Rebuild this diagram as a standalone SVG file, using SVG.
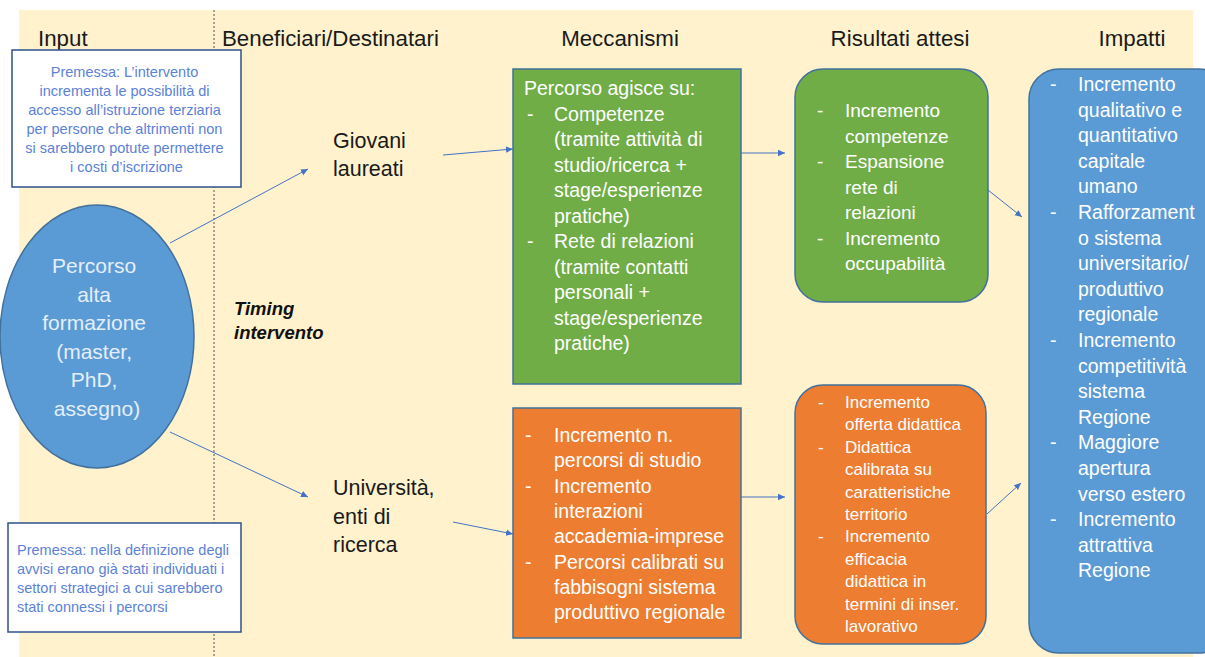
<svg xmlns="http://www.w3.org/2000/svg" width="1205" height="657" viewBox="0 0 1205 657">
<defs>
<marker id="ah" markerWidth="8" markerHeight="8" refX="7" refY="4" orient="auto" markerUnits="userSpaceOnUse">
<path d="M0,0.8 L7,4 L0,7.2 Z" fill="#4472C4"/>
</marker>
<style>
text{font-family:"Liberation Sans",Arial,sans-serif;}
.hdr{font-size:22.3px;fill:#1a1a1a;}
.lbl{font-size:21.5px;fill:#1a1a1a;}
.prem{font-size:14.5px;fill:#5b82d6;}
.ell{font-size:21px;fill:#e4eefa;text-anchor:middle;}
.mech{font-size:19.5px;fill:#ffffff;}
.res{font-size:19px;fill:#ffffff;}
.res2{font-size:17px;fill:#ffffff;}
.imp{font-size:19.5px;fill:#ffffff;}
.box{stroke:#41719C;stroke-width:1.5;}
.conn{stroke:#4472C4;stroke-width:1;fill:none;marker-end:url(#ah);}
</style>
</defs>
<rect x="0" y="0" width="1205" height="657" fill="#ffffff"/>
<rect x="19" y="10" width="1174" height="647" fill="#FFF2CC"/>
<line x1="214" y1="10" x2="214" y2="657" stroke="#555" stroke-width="1" stroke-dasharray="2,2"/>
<g id="headers">
<text class="hdr" x="38" y="46">Input</text>
<text class="hdr" x="222" y="46">Beneficiari/Destinatari</text>
<text class="hdr" x="620" y="46" text-anchor="middle">Meccanismi</text>
<text class="hdr" x="900" y="46" text-anchor="middle">Risultati attesi</text>
<text class="hdr" x="1132" y="46" text-anchor="middle">Impatti</text>
</g>
<g id="premessa1">
<rect x="12" y="50" width="229" height="137" fill="#ffffff" stroke="#2F528F" stroke-width="1.5"/>
<text class="prem" text-anchor="middle">
<tspan x="126.5" y="77">Premessa: L’intervento</tspan>
<tspan x="126.5" y="96">incrementa le possibilità di</tspan>
<tspan x="126.5" y="115">accesso all’istruzione terziaria</tspan>
<tspan x="126.5" y="134">per persone che altrimenti non</tspan>
<tspan x="126.5" y="153">si sarebbero potute permettere</tspan>
<tspan x="126.5" y="172">i costi d’iscrizione</tspan>
</text>
</g>
<g id="premessa2">
<rect x="8" y="523" width="233" height="109" fill="#ffffff" stroke="#2F528F" stroke-width="1.5"/>
<text class="prem">
<tspan x="17" y="555">Premessa: nella definizione degli</tspan>
<tspan x="17" y="574">avvisi erano già stati individuati i</tspan>
<tspan x="17" y="593">settori strategici a cui sarebbero</tspan>
<tspan x="17" y="612">stati connessi i percorsi</tspan>
</text>
</g>
<g id="input">
<ellipse cx="97" cy="336.5" rx="97" ry="131.5" fill="#5B9BD5" stroke="#41719C" stroke-width="1.5"/>
<text class="ell">
<tspan x="97" y="273">Percorso</tspan>
<tspan x="97" y="301.5">alta</tspan>
<tspan x="97" y="330">formazione</tspan>
<tspan x="97" y="358.5">(master,</tspan>
<tspan x="97" y="387">PhD,</tspan>
<tspan x="97" y="415.5">assegno)</tspan>
</text>
</g>
<g id="timing">
<text x="234" y="315" font-size="18.5" font-weight="bold" font-style="italic" fill="#111">Timing</text>
<text x="234" y="339" font-size="18.5" font-weight="bold" font-style="italic" fill="#111">intervento</text>
</g>
<g id="giovani">
<text class="lbl"><tspan x="333" y="148">Giovani</tspan><tspan x="333" y="176">laureati</tspan></text>
</g>
<g id="universita">
<text class="lbl"><tspan x="333" y="495">Università,</tspan><tspan x="333" y="523.5">enti di</tspan><tspan x="333" y="552">ricerca</tspan></text>
</g>
<g id="mech-green">
<rect class="box" x="513" y="69" width="228" height="315" fill="#70AD47"/>
<text class="mech">
<tspan x="524" y="95">Percorso agisce su:</tspan>
<tspan x="527" y="120.5">-</tspan><tspan x="554" y="120.5">Competenze</tspan>
<tspan x="554" y="146">(tramite attività di</tspan>
<tspan x="554" y="171.5">studio/ricerca +</tspan>
<tspan x="554" y="197">stage/esperienze</tspan>
<tspan x="554" y="222.5">pratiche)</tspan>
<tspan x="527" y="248">-</tspan><tspan x="554" y="248">Rete di relazioni</tspan>
<tspan x="554" y="273.5">(tramite contatti</tspan>
<tspan x="554" y="299">personali +</tspan>
<tspan x="554" y="324.5">stage/esperienze</tspan>
<tspan x="554" y="350">pratiche)</tspan>
</text>
</g>
<g id="mech-orange">
<rect class="box" x="513" y="408" width="228" height="230" fill="#ED7D31"/>
<text class="mech">
<tspan x="525" y="442">-</tspan><tspan x="554" y="442">Incremento n.</tspan>
<tspan x="554" y="467.3">percorsi di studio</tspan>
<tspan x="525" y="492.6">-</tspan><tspan x="554" y="492.6">Incremento</tspan>
<tspan x="554" y="517.9">interazioni</tspan>
<tspan x="554" y="543.2">accademia-imprese</tspan>
<tspan x="525" y="568.5">-</tspan><tspan x="554" y="568.5">Percorsi calibrati su</tspan>
<tspan x="554" y="593.8">fabbisogni sistema</tspan>
<tspan x="554" y="619.1">produttivo regionale</tspan>
</text>
</g>
<g id="res-green">
<rect class="box" x="795" y="69" width="193" height="233" rx="28" ry="28" fill="#70AD47"/>
<text class="res">
<tspan x="817" y="117">-</tspan><tspan x="845" y="117">Incremento</tspan>
<tspan x="845" y="142.5">competenze</tspan>
<tspan x="817" y="168">-</tspan><tspan x="845" y="168">Espansione</tspan>
<tspan x="845" y="193.5">rete di</tspan>
<tspan x="845" y="219">relazioni</tspan>
<tspan x="817" y="244.5">-</tspan><tspan x="845" y="244.5">Incremento</tspan>
<tspan x="845" y="270">occupabilità</tspan>
</text>
</g>
<g id="res-orange">
<rect class="box" x="795" y="385" width="191" height="259" rx="28" ry="28" fill="#ED7D31"/>
<text class="res2">
<tspan x="818" y="408">-</tspan><tspan x="845" y="408">Incremento</tspan>
<tspan x="845" y="430.4">offerta didattica</tspan>
<tspan x="818" y="452.8">-</tspan><tspan x="845" y="452.8">Didattica</tspan>
<tspan x="845" y="475.2">calibrata su</tspan>
<tspan x="845" y="497.6">caratteristiche</tspan>
<tspan x="845" y="520">territorio</tspan>
<tspan x="818" y="542.4">-</tspan><tspan x="845" y="542.4">Incremento</tspan>
<tspan x="845" y="564.8">efficacia</tspan>
<tspan x="845" y="587.2">didattica in</tspan>
<tspan x="845" y="609.6">termini di inser.</tspan>
<tspan x="845" y="632">lavorativo</tspan>
</text>
</g>
<g id="impatti">
<rect class="box" x="1029" y="69" width="200" height="584" rx="30" ry="30" fill="#5B9BD5"/>
<text class="imp">
<tspan x="1050" y="91">-</tspan><tspan x="1078" y="91">Incremento</tspan>
<tspan x="1078" y="116.6">qualitativo e</tspan>
<tspan x="1078" y="142.2">quantitativo</tspan>
<tspan x="1078" y="167.8">capitale</tspan>
<tspan x="1078" y="193.4">umano</tspan>
<tspan x="1050" y="219">-</tspan><tspan x="1078" y="219">Rafforzament</tspan>
<tspan x="1078" y="244.6">o sistema</tspan>
<tspan x="1078" y="270.2">universitario/</tspan>
<tspan x="1078" y="295.8">produttivo</tspan>
<tspan x="1078" y="321.4">regionale</tspan>
<tspan x="1050" y="347">-</tspan><tspan x="1078" y="347">Incremento</tspan>
<tspan x="1078" y="372.6">competitività</tspan>
<tspan x="1078" y="398.2">sistema</tspan>
<tspan x="1078" y="423.8">Regione</tspan>
<tspan x="1050" y="449.4">-</tspan><tspan x="1078" y="449.4">Maggiore</tspan>
<tspan x="1078" y="475">apertura</tspan>
<tspan x="1078" y="500.6">verso estero</tspan>
<tspan x="1050" y="526.2">-</tspan><tspan x="1078" y="526.2">Incremento</tspan>
<tspan x="1078" y="551.8">attrattiva</tspan>
<tspan x="1078" y="577.4">Regione</tspan>
</text>
</g>
<g id="connectors">
<line class="conn" x1="170" y1="243" x2="308" y2="169"/>
<line class="conn" x1="170" y1="432" x2="308" y2="497"/>
<line class="conn" x1="443" y1="155" x2="513" y2="149"/>
<line class="conn" x1="453" y1="522" x2="513" y2="534"/>
<line class="conn" x1="741" y1="153" x2="785" y2="153"/>
<line class="conn" x1="741" y1="497" x2="785" y2="497"/>
<line class="conn" x1="988" y1="190" x2="1022" y2="217"/>
<line class="conn" x1="987" y1="514" x2="1021" y2="483"/>
</g>
</svg>
